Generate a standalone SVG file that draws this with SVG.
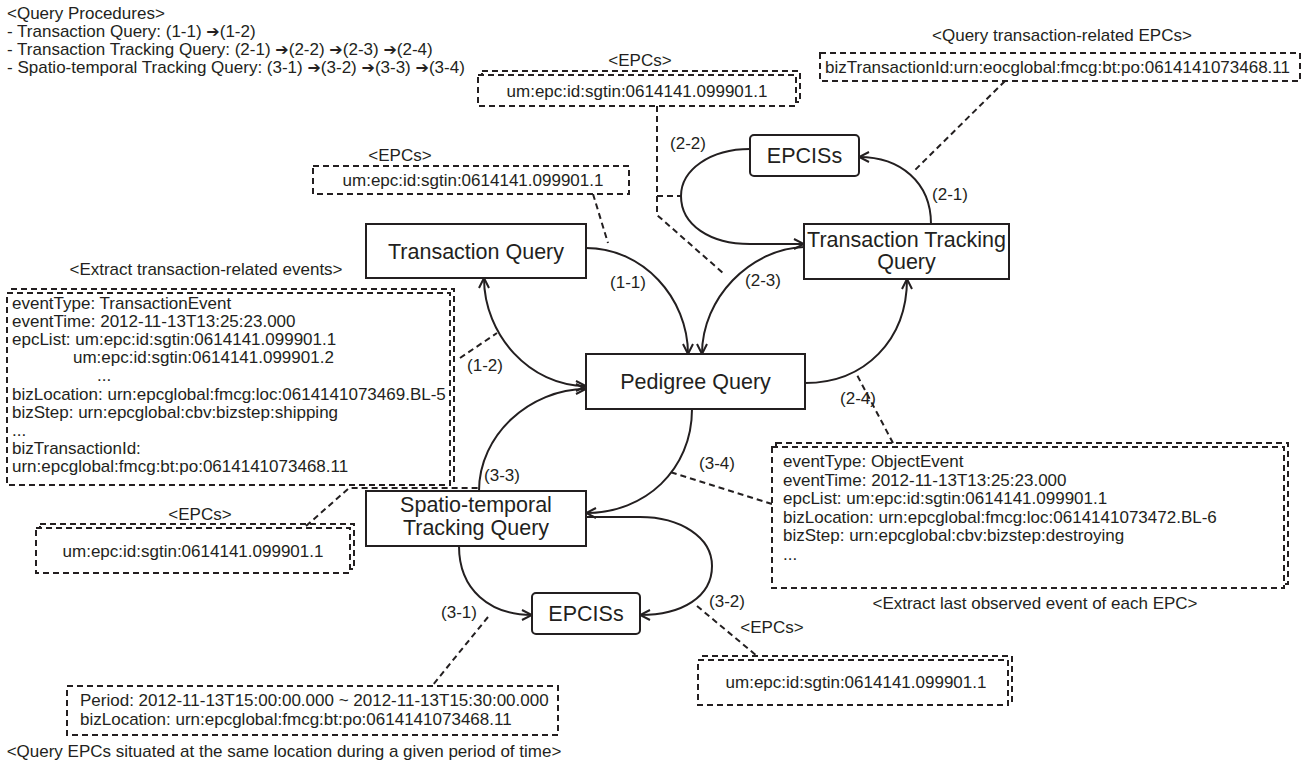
<svg xmlns="http://www.w3.org/2000/svg" width="1305" height="760" viewBox="0 0 1305 760">
<style>
.t{font-family:"Liberation Sans",Arial,sans-serif;font-size:17px;fill:#231f20}
.n{font-family:"Liberation Sans",Arial,sans-serif;font-size:21.5px;fill:#231f20;text-anchor:middle}
.m{text-anchor:middle}
.ar{font-family:"DejaVu Sans",sans-serif;font-size:16px}
.node{fill:#fff;stroke:#231f20;stroke-width:2}
.conn{fill:none;stroke:#231f20;stroke-width:2}
.lead{fill:none;stroke:#231f20;stroke-width:2;stroke-dasharray:6 4}
.back{fill:none;stroke:#231f20;stroke-width:2;stroke-dasharray:6 4}
.box{fill:#fff;stroke:#231f20;stroke-width:2;stroke-dasharray:6 4}
</style>
<defs>
<marker id="arr" viewBox="0 0 12 12" refX="11" refY="6" markerWidth="12" markerHeight="12" markerUnits="userSpaceOnUse" orient="auto-start-reverse">
<path d="M1,1 L11,6 L1,11" fill="none" stroke="#231f20" stroke-width="2"/>
</marker>
</defs>
<rect width="1305" height="760" fill="#fff"/>

<g id="procedures" class="t">
<text x="7" y="19">&lt;Query Procedures&gt;</text>
<text x="7" y="37">- Transaction Query: (1-1) <tspan class="ar">➔</tspan>(1-2)</text>
<text x="7" y="55">- Transaction Tracking Query: (2-1) <tspan class="ar">➔</tspan>(2-2) <tspan class="ar">➔</tspan>(2-3) <tspan class="ar">➔</tspan>(2-4)</text>
<text x="7" y="73">- Spatio-temporal Tracking Query: (3-1) <tspan class="ar">➔</tspan>(3-2) <tspan class="ar">➔</tspan>(3-3) <tspan class="ar">➔</tspan>(3-4)</text>
</g>

<g id="connectors">
<path class="conn" d="M586,248 C643,248 688,298 688,354" marker-end="url(#arr)"/>
<path class="conn" d="M804,247 C750,249 702,298 702,354" marker-end="url(#arr)"/>
<path class="conn" d="M484,278 C484,335 530,386 586,386" marker-start="url(#arr)" marker-end="url(#arr)"/>
<path class="conn" d="M479,491 C479,435 530,389 586,389" marker-end="url(#arr)"/>
<path class="conn" d="M805,383 C865,383 907,340 907,279" marker-end="url(#arr)"/>
<path class="conn" d="M692,409 C692,470 645,513 586,513" marker-end="url(#arr)"/>
<path class="conn" d="M586,517 L640,517 C680,517 712,537 712,566 C712,597 682,615 640,615" marker-end="url(#arr)"/>
<path class="conn" d="M459,546 C459,590 490,615 532,615" marker-end="url(#arr)"/>
<path class="conn" d="M931,224 C931,182 900,157 859,157" marker-end="url(#arr)"/>
<path class="conn" d="M750,149 C710,149 681,170 681,196 C681,225 710,244 750,244 L804,244" marker-end="url(#arr)"/>
<g id="leaders">
<path class="lead" d="M657,106 L657,215 L723,273"/>
<path class="lead" d="M657,196 L681,196"/>
<path class="lead" d="M1005,81 L913,172"/>
<path class="lead" d="M593,194 L608,243"/>
<path class="lead" d="M460,358 L497,333"/>
<path class="lead" d="M893,443 L857,375"/>
<path class="lead" d="M772,504 L670,472"/>
<path class="lead" d="M306,526 L349,488 L479,488"/>
<path class="lead" d="M488,617 L432,686"/>
<path class="lead" d="M697,606 L757,656"/>
</g>
</g>

<g id="epcs-top">
<text class="t m" x="640" y="66">&lt;EPCs&gt;</text>
<rect class="back" x="482" y="71" width="318" height="31"/>
<rect class="box" x="478" y="75" width="318" height="31"/>
<text class="t m" x="637" y="97">um:epc:id:sgtin:0614141.099901.1</text>
</g>

<g id="biztx-box">
<text class="t m" x="1062" y="41">&lt;Query transaction-related EPCs&gt;</text>
<rect class="box" x="820" y="53" width="480" height="28"/>
<text class="t" x="825" y="73">bizTransactionId:urn:eocglobal:fmcg:bt:po:0614141073468.11</text>
</g>

<g id="epcs-mid">
<text class="t m" x="400" y="161">&lt;EPCs&gt;</text>
<rect class="box" x="313" y="166" width="316" height="28"/>
<text class="t m" x="473" y="186">um:epc:id:sgtin:0614141.099901.1</text>
</g>

<g id="transaction-query">
<rect class="node" x="366" y="224" width="220" height="54"/>
<text class="n" x="476" y="259">Transaction Query</text>
</g>

<g id="epciss-top">
<rect class="node" x="750" y="135" width="109" height="41" rx="4"/>
<text class="n" x="804.5" y="163">EPCISs</text>
</g>

<g id="transaction-tracking-query">
<rect class="node" x="804" y="224" width="205" height="55"/>
<text class="n" x="906.5" y="247">Transaction Tracking</text>
<text class="n" x="906.5" y="269">Query</text>
</g>

<g id="pedigree-query">
<rect class="node" x="586" y="354" width="219" height="55"/>
<text class="n" x="695.5" y="389">Pedigree Query</text>
</g>

<g id="events-left">
<text class="t m" x="206" y="275">&lt;Extract transaction-related events&gt;</text>
<rect class="back" x="11" y="289" width="443" height="192"/>
<rect class="box" x="7" y="293" width="443" height="192"/>
<text class="t" x="12" y="309">eventType: TransactionEvent</text>
<text class="t" x="12" y="327">eventTime: 2012-11-13T13:25:23.000</text>
<text class="t" x="12" y="345">epcList: um:epc:id:sgtin:0614141.099901.1</text>
<text class="t" x="73" y="363">um:epc:id:sgtin:0614141.099901.2</text>
<text class="t" x="97" y="381">...</text>
<text class="t" x="12" y="400">bizLocation: urn:epcglobal:fmcg:loc:0614141073469.BL-5</text>
<text class="t" x="12" y="418">bizStep: urn:epcglobal:cbv:bizstep:shipping</text>
<text class="t" x="12" y="436">...</text>
<text class="t" x="12" y="454">bizTransactionId:</text>
<text class="t" x="12" y="472">urn:epcglobal:fmcg:bt:po:0614141073468.11</text>
</g>

<g id="events-right">
<rect class="back" x="776" y="443" width="512" height="141"/>
<rect class="box" x="772" y="447" width="512" height="141"/>
<text class="t" x="783" y="467">eventType: ObjectEvent</text>
<text class="t" x="783" y="485.5">eventTime: 2012-11-13T13:25:23.000</text>
<text class="t" x="783" y="504">epcList: um:epc:id:sgtin:0614141.099901.1</text>
<text class="t" x="783" y="522.5">bizLocation: urn:epcglobal:fmcg:loc:0614141073472.BL-6</text>
<text class="t" x="783" y="541">bizStep: urn:epcglobal:cbv:bizstep:destroying</text>
<text class="t" x="783" y="559.5">...</text>
<text class="t m" x="1035" y="609">&lt;Extract last observed event of each EPC&gt;</text>
</g>

<g id="spatio-temporal-query">
<rect class="node" x="366" y="491" width="220" height="55"/>
<text class="n" x="476" y="512">Spatio-temporal</text>
<text class="n" x="476" y="535">Tracking Query</text>
</g>

<g id="epcs-left">
<text class="t m" x="200" y="520">&lt;EPCs&gt;</text>
<rect class="back" x="40" y="524" width="314" height="45"/>
<rect class="box" x="36" y="528" width="314" height="45"/>
<text class="t m" x="193" y="557">um:epc:id:sgtin:0614141.099901.1</text>
</g>

<g id="epciss-bottom">
<rect class="node" x="532" y="593" width="108" height="41" rx="4"/>
<text class="n" x="586" y="621">EPCISs</text>
</g>

<g id="epcs-bottom">
<text class="t m" x="772" y="633">&lt;EPCs&gt;</text>
<rect class="back" x="702" y="656" width="310" height="45"/>
<rect class="box" x="698" y="660" width="310" height="45"/>
<text class="t m" x="856" y="688">um:epc:id:sgtin:0614141.099901.1</text>
</g>

<g id="period-box">
<rect class="box" x="67" y="686" width="491" height="49"/>
<text class="t" x="80" y="706">Period: 2012-11-13T15:00:00.000 ~ 2012-11-13T15:30:00.000</text>
<text class="t" x="80" y="725">bizLocation: urn:epcglobal:fmcg:bt:po:0614141073468.11</text>
<text class="t m" x="284" y="757">&lt;Query EPCs situated at the same location during a given period of time&gt;</text>
</g>

<g id="labels" class="t m">
<text x="628" y="288">(1-1)</text>
<text x="485" y="371">(1-2)</text>
<text x="950" y="200">(2-1)</text>
<text x="688" y="149">(2-2)</text>
<text x="763" y="286">(2-3)</text>
<text x="858" y="404">(2-4)</text>
<text x="459" y="618">(3-1)</text>
<text x="727" y="607">(3-2)</text>
<text x="502" y="481">(3-3)</text>
<text x="717" y="469">(3-4)</text>
</g>
</svg>
